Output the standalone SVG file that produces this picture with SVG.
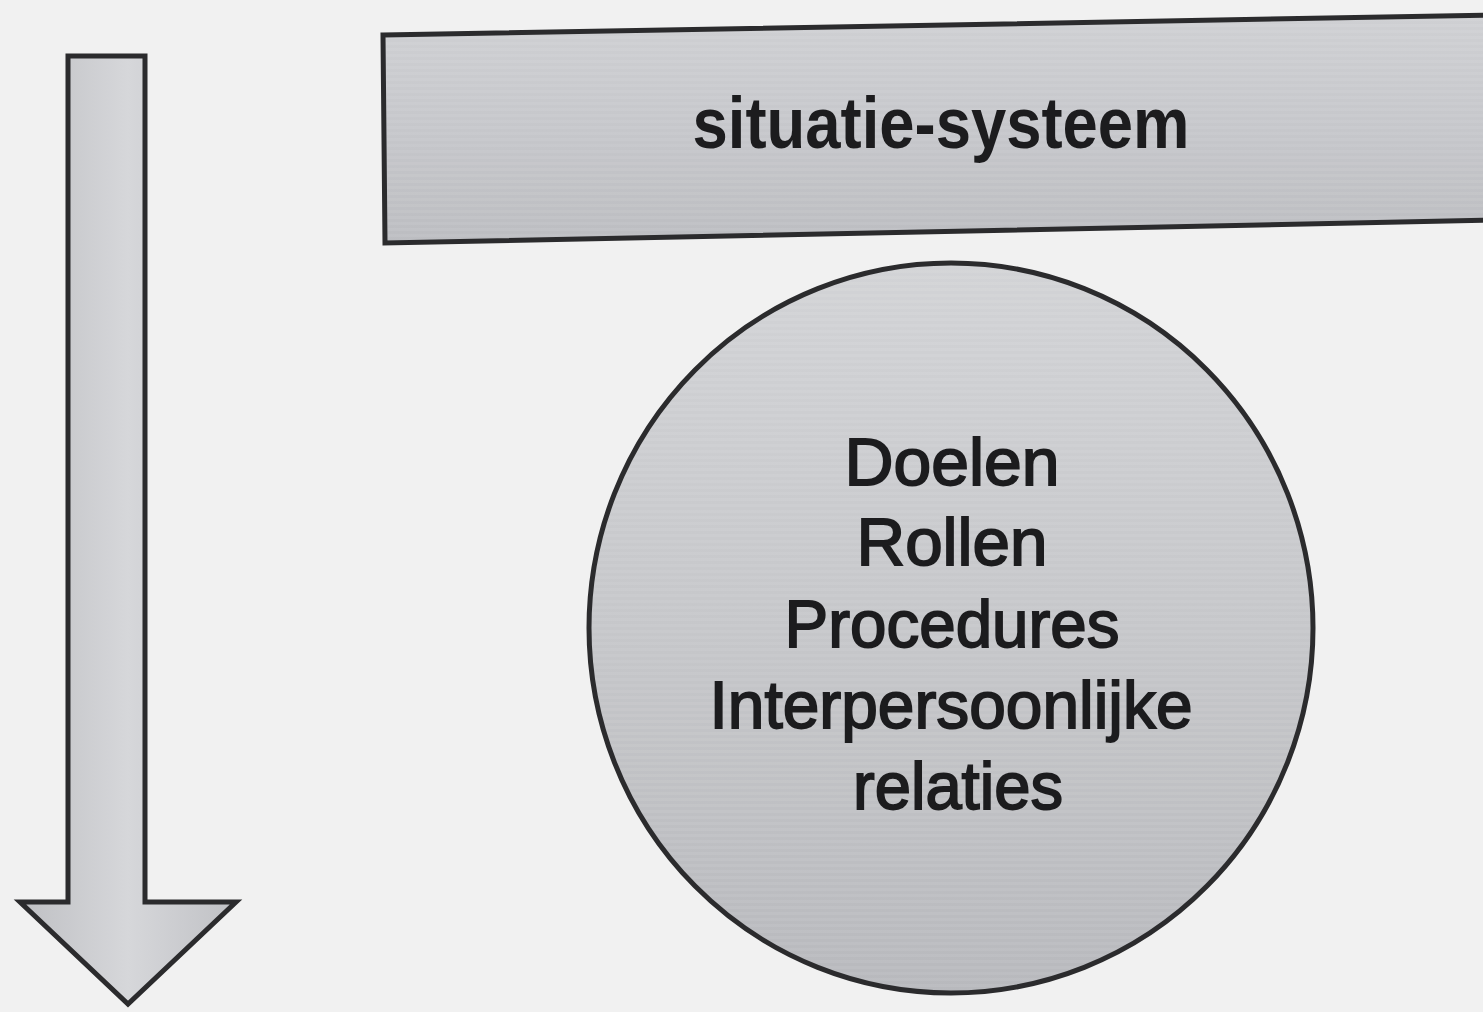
<svg xmlns="http://www.w3.org/2000/svg" width="1483" height="1012" viewBox="0 0 1483 1012">
  <defs>
    <linearGradient id="gShaft" x1="0" y1="0" x2="1" y2="0">
      <stop offset="0" stop-color="#bfc0c4"/>
      <stop offset="0.5" stop-color="#d6d7da"/>
      <stop offset="1" stop-color="#c0c1c5"/>
    </linearGradient>
    <linearGradient id="gBanner" x1="0" y1="0" x2="0" y2="1">
      <stop offset="0" stop-color="#cfd0d3"/>
      <stop offset="0.5" stop-color="#c6c7cb"/>
      <stop offset="1" stop-color="#bcbdc1"/>
    </linearGradient>
    <linearGradient id="gCircle" x1="0" y1="0" x2="0" y2="1">
      <stop offset="0" stop-color="#d2d3d6"/>
      <stop offset="0.5" stop-color="#c6c7ca"/>
      <stop offset="1" stop-color="#b8b9bd"/>
    </linearGradient>
    <pattern id="stripes" width="8" height="6" patternUnits="userSpaceOnUse">
      <rect width="8" height="3" fill="#ffffff" fill-opacity="0.06"/>
    </pattern>
  </defs>
  <style>
    .outline { stroke: #2b2b2d; stroke-width: 5; stroke-linejoin: miter; }
    .lbl { font-family: "Liberation Sans", Arial, sans-serif; fill: #1c1c1e; text-anchor: middle; }
    .title { font-size: 72px; font-weight: bold; }
    .item { font-size: 66px; stroke: #1c1c1e; stroke-width: 1.8; }
  </style>
  <rect width="1483" height="1012" fill="#f1f1f1"/>

  <g id="connectors">
    <g id="flow-arrow">
      <polygon class="outline" fill="url(#gShaft)" points="68,56 145,56 145,902 236,902 128,1004 20,902 68,902"/>
    </g>
  </g>

  <g id="situatie-systeem">
    <polygon class="outline" fill="url(#gBanner)" points="383,35 1500,15 1500,220 385,243"/>
    <polygon fill="url(#stripes)" points="386,38 1500,18 1500,217 388,240"/>
    <text class="lbl title" x="941" y="148" textLength="497" lengthAdjust="spacingAndGlyphs">situatie-systeem</text>
  </g>

  <g id="kenmerken">
    <ellipse class="outline" cx="951" cy="628" rx="362" ry="365" stroke-width="4" fill="url(#gCircle)"/>
    <ellipse cx="951" cy="628" rx="359" ry="362" fill="url(#stripes)"/>
    <text class="lbl item" x="952" y="485" textLength="215" lengthAdjust="spacingAndGlyphs">Doelen</text>
    <text class="lbl item" x="952" y="565" textLength="191" lengthAdjust="spacingAndGlyphs">Rollen</text>
    <text class="lbl item" x="952" y="647" textLength="335" lengthAdjust="spacingAndGlyphs">Procedures</text>
    <text class="lbl item" x="951" y="728" textLength="483" lengthAdjust="spacingAndGlyphs">Interpersoonlijke</text>
    <text class="lbl item" x="958" y="809" textLength="210" lengthAdjust="spacingAndGlyphs">relaties</text>
  </g>
</svg>
